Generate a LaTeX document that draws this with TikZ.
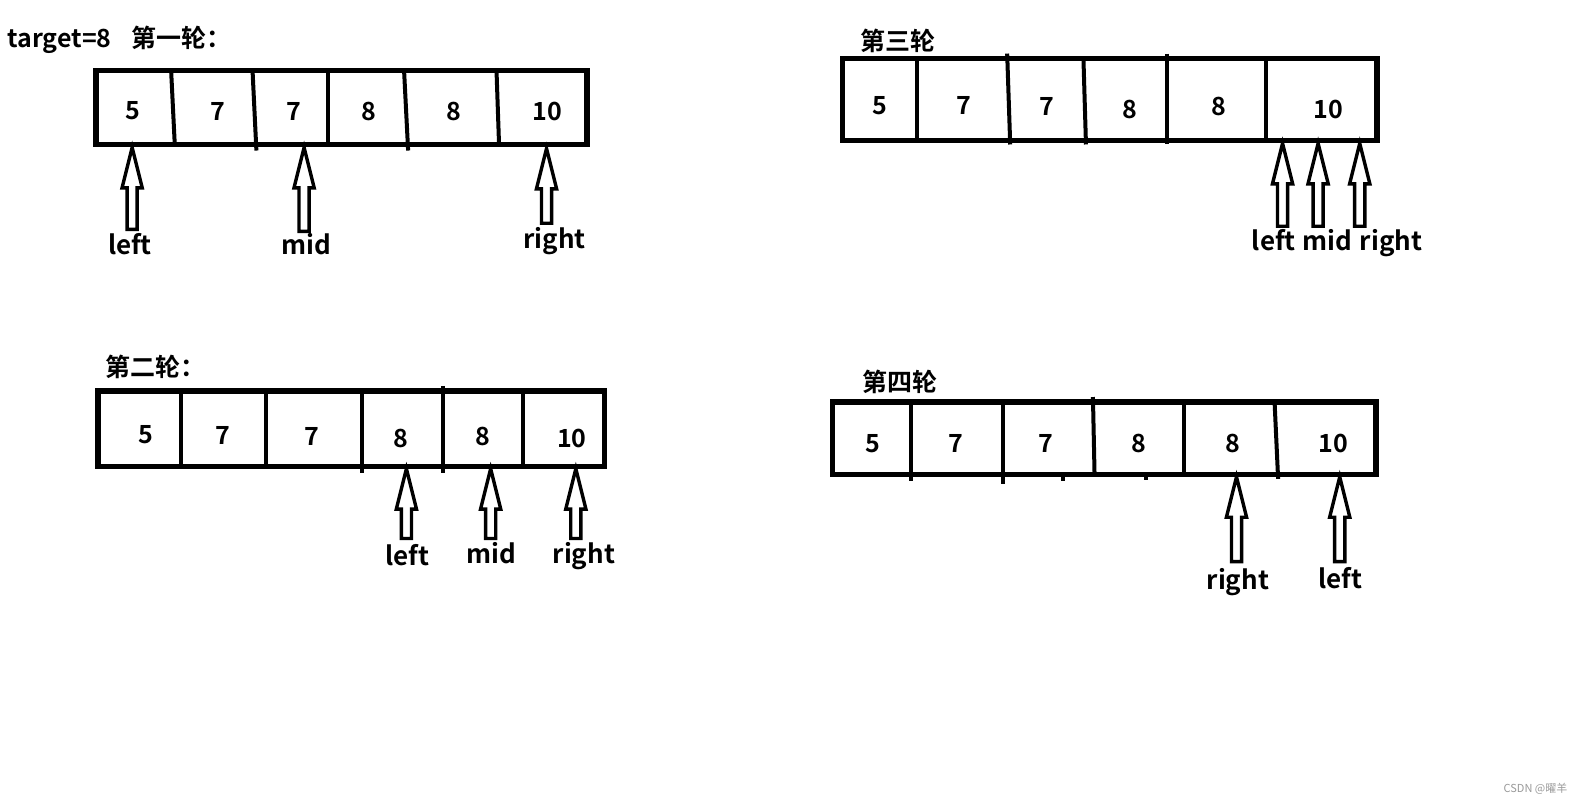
\documentclass[tikz,border=0pt]{standalone}
\usepackage{fontspec}
\setmainfont{Noto Sans CJK SC}[BoldFont={Noto Sans CJK SC Bold}]
\usetikzlibrary{calc}
\definecolor{wmgray}{HTML}{9A9A9A}
\tikzset{
  box/.style={line width=2.6pt},
  divider/.style={line width=2pt},
  arrowline/.style={line width=1.7pt, line join=miter},
  num/.style={font=\bfseries\fontsize{12.5}{14}\selectfont, inner sep=0pt, anchor=center},
  lbl/.style={font=\bfseries\fontsize{13}{15}\selectfont, inner sep=0pt, anchor=base},
  ttl/.style={font=\bfseries\fontsize{12.5}{15}\selectfont, inner sep=0pt, anchor=base west},
  wm/.style={font=\fontsize{5.5}{6}\selectfont, text=wmgray, inner sep=0pt}
}
\newcommand{\hollowarrow}[2]{%
  \draw[arrowline] (#1) -- ($(#1)+(10,40)$) -- ($(#1)+(5,40)$) -- ($(#2)+(5,0)$)
    -- ($(#2)+(-5,0)$) -- ($(#1)+(-5,40)$) -- ($(#1)+(-10,40)$) -- cycle;}
\begin{document}
\begin{tikzpicture}[x=0.505pt,y=-0.505pt]
\useasboundingbox[fill=white] (0,0) rectangle (1568,797);

% ---------- Round 1 ----------
\node[ttl] (t1) at (7,47) {target=8\hspace{10pt}第一轮：};
\coordinate (A1nw) at (95,70); \coordinate (A1se) at (581,143);
\draw[box] (A1nw) rectangle (A1se);
\draw[divider] (169.4,70) -- (173,143);
\draw[divider] (250,70) -- (253.8,149);
\draw[divider] (324.5,70) -- (324.5,143);
\draw[divider] (400,70) -- (404,149);
\draw[divider] (491.5,70) -- (494,143);
\node[num] (a1c1) at (131.6,110) {5};
\node[num] (a1c2) at (215.6,110) {7};
\node[num] (a1c3) at (290.5,110) {7};
\node[num] (a1c4) at (365,110) {8};
\node[num] (a1c5) at (449.4,110) {8};
\node[num] (a1c6) at (542,110) {10};
\node[lbl] (a1left) at (128.6,252) {left};
\node[lbl] (a1mid) at (303,252) {mid};
\node[lbl] (a1right) at (549,246) {right};
\coordinate (a1lt) at (130.8,146); \coordinate (a1lb) at (130.8,227);
\coordinate (a1mt) at (301,146);   \coordinate (a1mb) at (301,229);
\coordinate (a1rt) at (541,147);   \coordinate (a1rb) at (541,221);
\hollowarrow{a1lt}{a1lb}
\hollowarrow{a1mt}{a1mb}
\hollowarrow{a1rt}{a1rb}

% ---------- Round 3 ----------
\node[ttl] (t3) at (851,49.5) {第三轮};
\coordinate (A3nw) at (834,58); \coordinate (A3se) at (1363,139);
\draw[box] (A3nw) rectangle (A3se);
\draw[divider] (907.8,58) -- (907.8,139);
\draw[divider] (997,53) -- (1000,143);
\draw[divider] (1072.5,58) -- (1075,143);
\draw[divider] (1155.6,53) -- (1155.6,143);
\draw[divider] (1253.6,58) -- (1253.6,139);
\node[num] (a3c1) at (871,104.4) {5};
\node[num] (a3c2) at (954,104.4) {7};
\node[num] (a3c3) at (1036,105) {7};
\node[num] (a3c4) at (1118,108) {8};
\node[num] (a3c5) at (1207,105) {8};
\node[num] (a3c6) at (1315,108) {10};
\node[lbl] (a3left) at (1261,248) {left};
\node[lbl] (a3mid) at (1314,248) {mid};
\node[lbl] (a3right) at (1377,248) {right};
\coordinate (a3lt) at (1269.6,142); \coordinate (a3lb) at (1269.6,224);
\coordinate (a3mt) at (1304.8,142); \coordinate (a3mb) at (1304.8,224);
\coordinate (a3rt) at (1346,142);   \coordinate (a3rb) at (1346,224);
\hollowarrow{a3lt}{a3lb}
\hollowarrow{a3mt}{a3mb}
\hollowarrow{a3rt}{a3rb}

% ---------- Round 2 ----------
\node[ttl] (t2) at (104,373) {第二轮：};
\coordinate (A2nw) at (97,387); \coordinate (A2se) at (598,462);
\draw[box] (A2nw) rectangle (A2se);
\draw[divider] (179.3,387) -- (179.3,462);
\draw[divider] (263.3,387) -- (263.3,462);
\draw[divider] (358.7,387) -- (358.7,468);
\draw[divider] (439,382) -- (439,468);
\draw[divider] (517.3,387) -- (517.3,462);
\node[num] (a2c1) at (144.3,430.7) {5};
\node[num] (a2c2) at (221,431) {7};
\node[num] (a2c3) at (309,432) {7};
\node[num] (a2c4) at (397,434) {8};
\node[num] (a2c5) at (478,431.7) {8};
\node[num] (a2c6) at (566,434) {10};
\node[lbl] (a2left) at (403,560) {left};
\node[lbl] (a2mid) at (486,558) {mid};
\node[lbl] (a2right) at (578,558) {right};
\coordinate (a2lt) at (402.3,464); \coordinate (a2lb) at (402.3,533);
\coordinate (a2mt) at (485.7,464); \coordinate (a2mb) at (485.7,533);
\coordinate (a2rt) at (570,464);   \coordinate (a2rb) at (570,533);
\hollowarrow{a2lt}{a2lb}
\hollowarrow{a2mt}{a2mb}
\hollowarrow{a2rt}{a2rb}

% ---------- Round 4 ----------
\node[ttl] (t4) at (853,388) {第四轮};
\coordinate (A4nw) at (824,398); \coordinate (A4se) at (1362,470);
\draw[box] (A4nw) rectangle (A4se);
\draw[divider] (902,398) -- (902,476);
\draw[divider] (993,398) -- (993,479);
\draw[divider] (1081.9,393) -- (1083.5,470);
\draw[divider] (1172.5,398) -- (1172.5,470);
\draw[divider] (1261.7,398) -- (1265.2,474);
\draw[divider] (1052,470) -- (1052,476);
\draw[divider] (1134,470) -- (1134,475);
\node[num] (a4c1) at (864.3,439) {5};
\node[num] (a4c2) at (946,439) {7};
\node[num] (a4c3) at (1035,439) {7};
\node[num] (a4c4) at (1127.7,439) {8};
\node[num] (a4c5) at (1220.4,439) {8};
\node[num] (a4c6) at (1320,439) {10};
\node[lbl] (a4right) at (1225.4,584) {right};
\node[lbl] (a4left) at (1327,583) {left};
\coordinate (a4rt) at (1224,472);   \coordinate (a4rb) at (1224,556);
\coordinate (a4lt) at (1326.2,472); \coordinate (a4lb) at (1326.2,556);
\hollowarrow{a4rt}{a4rb}
\hollowarrow{a4lt}{a4lb}

% watermark
\node[wm] (wmark) at (1520,781) {CSDN @曜羊};
\end{tikzpicture}
\end{document}
